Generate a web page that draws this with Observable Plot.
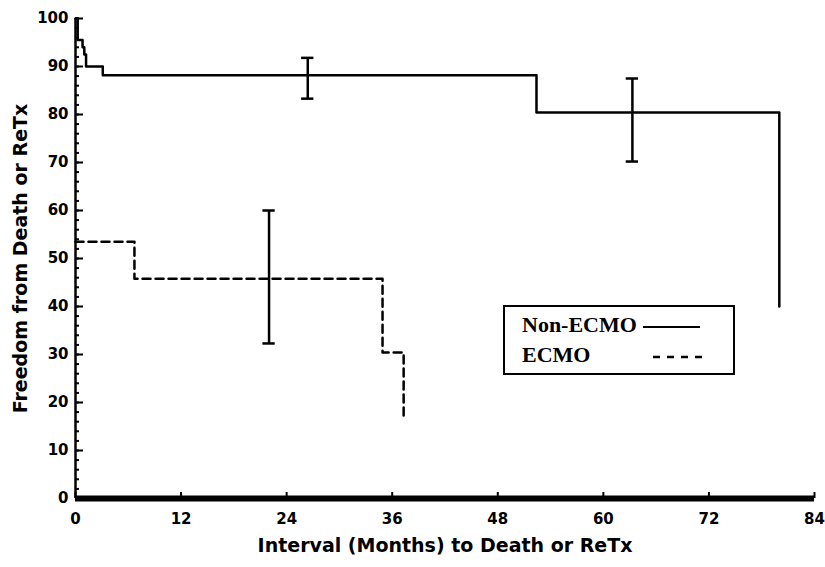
<!DOCTYPE html>
<html>
<head>
<meta charset="utf-8">
<script src="https://cdn.jsdelivr.net/npm/d3@7"></script>
<script src="https://cdn.jsdelivr.net/npm/@observablehq/plot@0.6"></script>
<style>
  html, body { margin: 0; padding: 0; background: #fff; }
  #wrap { position: relative; width: 825px; height: 567px; }
  #legend {
    position: absolute; left: 503px; top: 305px; width: 228px; height: 66px;
    border: 2px solid #000; background: #fff;
    font-family: "Liberation Serif", "Times New Roman", serif; font-weight: bold; font-size: 22px;
  }
  #legend .row { position: absolute; left: 17px; }
  #legend svg { position: absolute; }
</style>
</head>
<body>
<div id="wrap"></div>
<script>
// Non-ECMO Kaplan-Meier curve (months, % freedom)
const nonEcmoMonths = [0, 0.25, 0.8, 1.0, 1.2, 3.1, 52.4, 80.0];
const nonEcmoValues = [100, 95.5, 94, 92.5, 90, 88.2, 80.4, 40];
// ECMO curve
const ecmoMonths = [0, 6.7, 34.9, 37.3];
const ecmoValues = [53.5, 45.8, 30.4, 16.7];
// Error bars
const errMonths = [26.4, 63.3, 22.0];
const errLow = [83.3, 70.2, 32.3];
const errHigh = [91.8, 87.5, 60.0];
// Axis ticks
const xTicks = [0, 12, 24, 36, 48, 60, 72, 84];
const yTicks = [0, 10, 20, 30, 40, 50, 60, 70, 80, 90, 100];
const yMinorTicks = d3.range(0, 101, 2);
const xTitle = "Interval (Months) to Death or ReTx";
const yTitle = "Freedom from Death or ReTx";
const seriesNames = ["Non-ECMO", "ECMO"];

const nonEcmo = nonEcmoMonths.map((m, i) => ({month: m, value: nonEcmoValues[i]}));
const ecmo = ecmoMonths.map((m, i) => ({month: m, value: ecmoValues[i]}));
const errs = errMonths.map((m, i) => ({month: m, lo: errLow[i], hi: errHigh[i]}));
const capHalf = 0.7;

const font = "DejaVu Sans, Liberation Sans, sans-serif";

const chart = Plot.plot({
  width: 825,
  height: 567,
  marginLeft: 75,
  marginRight: 11,
  marginTop: 18,
  marginBottom: 69,
  style: {fontFamily: font, background: "#fff", color: "#000"},
  x: {domain: [0, 84], label: null},
  y: {domain: [0, 100], label: null},
  marks: [
    // y axis line
    Plot.ruleX([0], {y1: 0, y2: 100, stroke: "#000", strokeWidth: 2.5}),
    // y ticks (inward)
    Plot.axisY({ticks: yMinorTicks, tickSize: -4, tickFormat: () => "", label: null, strokeWidth: 2, stroke: "#000"}),
    Plot.axisY({ticks: yTicks, tickSize: -8, tickFormat: () => "", label: null, strokeWidth: 2, stroke: "#000"}),
    Plot.axisY({ticks: yTicks, tickSize: 0, tickPadding: 7, label: null, fontSize: 15, fontWeight: "bold", fill: "#000", stroke: "#000", strokeWidth: 0.4}),
    // x axis
    Plot.axisX({ticks: xTicks, tickSize: -6, tickFormat: () => "", label: null, strokeWidth: 2, stroke: "#000"}),
    Plot.axisX({ticks: xTicks, tickSize: 0, tickPadding: 15, label: null, fontSize: 15, fontWeight: "bold", fill: "#000", stroke: "#000", strokeWidth: 0.4}),
    Plot.ruleY([0], {x1: 0, x2: 84, stroke: "#000", strokeWidth: 6}),
    // curves
    Plot.line(nonEcmo, {x: "month", y: "value", curve: "step-after", stroke: "#000", strokeWidth: 2.5}),
    Plot.line(ecmo, {x: "month", y: "value", curve: "step-after", stroke: "#000", strokeWidth: 2.5, strokeDasharray: "8,5"}),
    // error bars
    Plot.ruleX(errs, {x: "month", y1: "lo", y2: "hi", stroke: "#000", strokeWidth: 2.5}),
    Plot.ruleY(errs, {y: "lo", x1: d => d.month - capHalf, x2: d => d.month + capHalf, stroke: "#000", strokeWidth: 2.5}),
    Plot.ruleY(errs, {y: "hi", x1: d => d.month - capHalf, x2: d => d.month + capHalf, stroke: "#000", strokeWidth: 2.5}),
    // titles
    Plot.text([xTitle], {text: d => d, frameAnchor: "bottom", dy: 53, fontSize: 19, fontWeight: "bold", fill: "#000"}),
    Plot.text([yTitle], {text: d => d, frameAnchor: "left", textAnchor: "middle", dx: -55, rotate: -90, fontSize: 19, fontWeight: "bold", fill: "#000"})
  ]
});

const wrap = document.getElementById("wrap");
wrap.appendChild(chart);

const legend = document.createElement("div");
legend.id = "legend";
legend.innerHTML = `
  <div class="row" style="top:5px">${seriesNames[0]}</div>
  <div class="row" style="top:35px">${seriesNames[1]}</div>
  <svg width="60" height="10" style="left:138px; top:15px"><line x1="0" x2="57" y1="5" y2="5" stroke="#000" stroke-width="2"/></svg>
  <svg width="60" height="10" style="left:148px; top:45px"><line x1="0" x2="50" y1="5" y2="5" stroke="#000" stroke-width="2.5" stroke-dasharray="7,7"/></svg>
`;
wrap.appendChild(legend);
</script>
</body>
</html>
